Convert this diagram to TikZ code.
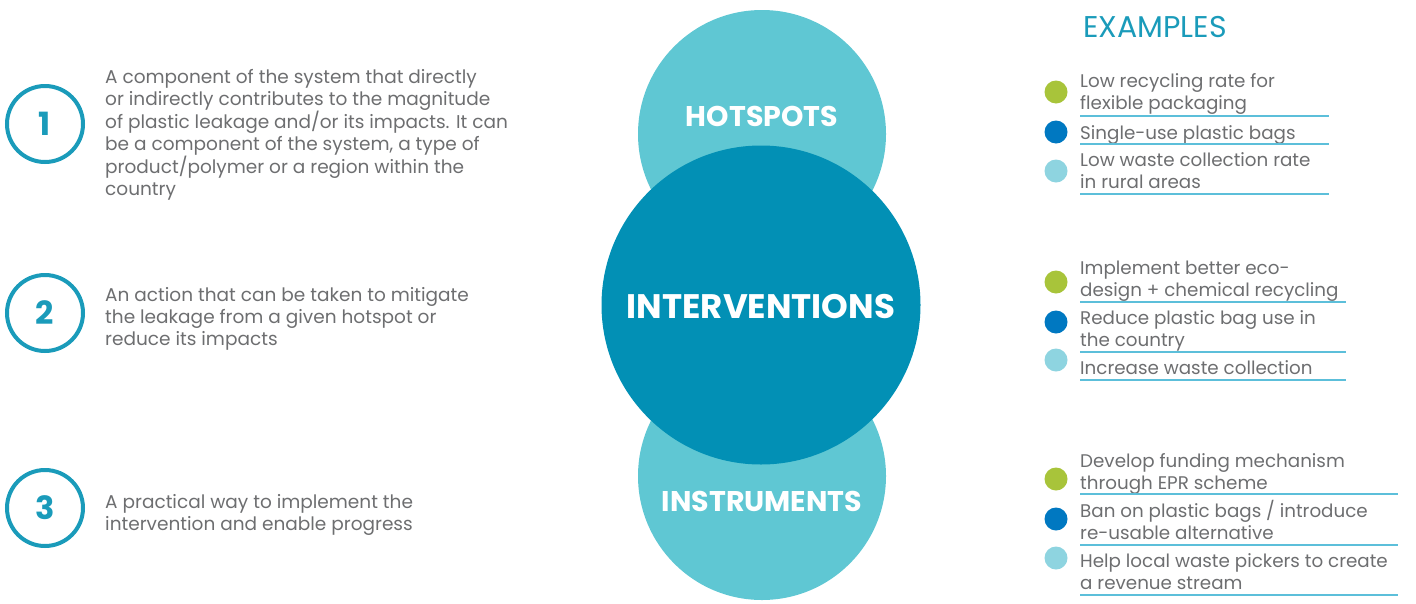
\documentclass[tikz,border=0pt]{standalone}
\usepackage{fontspec}
\setmainfont{Poppins}
\usepackage{xcolor}
\usetikzlibrary{positioning,calc}

\definecolor{lightteal}{HTML}{5FC7D3}
\definecolor{darkteal}{HTML}{0290B5}
\definecolor{numteal}{HTML}{1A9BBA}
\definecolor{graytext}{HTML}{6D6E70}
\definecolor{rulecol}{HTML}{5CBFDA}
\definecolor{dotgreen}{HTML}{A8C43A}
\definecolor{dotblue}{HTML}{0078C1}
\definecolor{dotlight}{HTML}{8ED4E0}

\begin{document}
\begin{tikzpicture}[x=1pt, y=-1pt,
    numring/.style={draw=numteal, line width=4pt, circle, minimum size=76pt, inner sep=0pt, text=numteal, font=\fontsize{32}{32}\selectfont\bfseries},
    desc/.style={anchor=base west, align=left, text=graytext, inner sep=0pt, font=\fontsize{18.5}{21.6}\selectfont},
    bubble/.style={circle, fill=lightteal, minimum size=248pt, inner sep=0pt},
    bubbletext/.style={text=white, font=\fontsize{28.5}{28.5}\selectfont\bfseries, inner sep=0pt},
    item/.style={anchor=base west, align=left, text=graytext, inner sep=0pt, font=\fontsize{18.3}{21.5}\selectfont},
    bullet/.style={circle, minimum size=23pt, inner sep=0pt},
    rule/.style={draw=rulecol, line width=1.2pt}]
    \useasboundingbox (0,0) rectangle (1416,603);

    % Left column: definitions (anchored at the baseline of the last line)
    \node [numring] (n1) at (45,124) {1};
    \node [desc] (d1) at (105,195) {A component of the system that directly\\or indirectly contributes to the magnitude\\of plastic leakage and/or its impacts. It can\\be a component of the system, a type of\\product/polymer or a region within the\\country};
    \node [numring] (n2) at (45,313) {2};
    \node [desc] (d2) at (105,345) {An action that can be taken to mitigate\\the leakage from a given hotspot or\\reduce its impacts};
    \node [numring] (n3) at (45,508) {3};
    \node [desc] (d3) at (105,530) {A practical way to implement the\\intervention and enable progress};

    % Centre: stacked circles
    \node [bubble] (hot) at (762,134) {};
    \node [bubble] (instr) at (762,476) {};
    \node [circle, fill=darkteal, minimum size=319pt, inner sep=0pt] (inter) at (761,305) {};
    \node [bubbletext] (hotlbl) at (762,116) {HOTSPOTS};
    \node [bubbletext] (instrlbl) at (762,501) {INSTRUMENTS};
    \node [bubbletext, font=\fontsize{34}{34}\selectfont\bfseries] (interlbl) at (761,307) {INTERVENTIONS};

    % Right column: examples
    \node [anchor=base west, inner sep=0pt, text=numteal, font=\fontsize{30}{30}\selectfont] (exhead) at (1083,37) {EXAMPLES};

    % hotspots
    \node [bullet, fill=dotgreen] (b11) at (1056,92) {};
    \node [item] (e11) at (1080,109) {Low recycling rate for\\flexible packaging};
    \draw [rule] (1080,116) -- (1329,116);
    \node [bullet, fill=dotblue] (b12) at (1056,132) {};
    \node [item] (e12) at (1080,139) {Single-use plastic bags};
    \draw [rule] (1080,144) -- (1329,144);
    \node [bullet, fill=dotlight] (b13) at (1056,171) {};
    \node [item] (e13) at (1080,188) {Low waste collection rate\\in rural areas};
    \draw [rule] (1080,194) -- (1329,194);

    % interventions
    \node [bullet, fill=dotgreen] (b21) at (1056,282) {};
    \node [item] (e21) at (1080,296) {Implement better eco-\\design + chemical recycling};
    \draw [rule] (1080,302) -- (1346,302);
    \node [bullet, fill=dotblue] (b22) at (1056,322) {};
    \node [item] (e22) at (1080,346) {Reduce plastic bag use in\\the country};
    \draw [rule] (1080,352) -- (1346,352);
    \node [bullet, fill=dotlight] (b23) at (1056,360) {};
    \node [item] (e23) at (1080,374) {Increase waste collection};
    \draw [rule] (1080,380) -- (1346,380);

    % instruments
    \node [bullet, fill=dotgreen] (b31) at (1056,479) {};
    \node [item] (e31) at (1080,489) {Develop funding mechanism\\through EPR scheme};
    \draw [rule] (1080,494) -- (1398,494);
    \node [bullet, fill=dotblue] (b32) at (1056,519) {};
    \node [item] (e32) at (1080,539) {Ban on plastic bags / introduce\\re-usable alternative};
    \draw [rule] (1080,545) -- (1398,545);
    \node [bullet, fill=dotlight] (b33) at (1056,558) {};
    \node [item] (e33) at (1080,589) {Help local waste pickers to create\\a revenue stream};
    \draw [rule] (1080,595) -- (1398,595);
\end{tikzpicture}
\end{document}
